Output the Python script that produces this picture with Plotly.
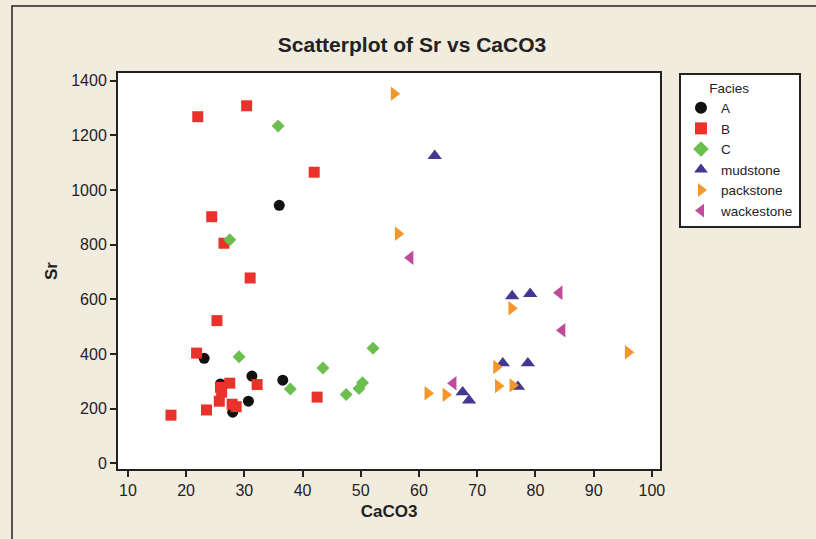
import plotly.graph_objects as go

# CaCO3 (%) and Sr (ppm) by facies
a_caco3 = [23.1, 25.9, 28.0, 30.7, 31.3, 36.6, 36.0]
a_sr = [384, 290, 187, 227, 319, 304, 944]

b_caco3 = [22.0, 30.4, 42.0, 24.4, 26.5, 31.0, 25.3, 21.8, 32.2, 27.5,
           25.9, 26.1, 25.7, 27.9, 28.6, 23.5, 17.4, 42.5]
b_sr = [1268, 1308, 1065, 902, 805, 678, 522, 403, 288, 293,
        278, 260, 227, 216, 207, 195, 176, 242]

c_caco3 = [35.8, 27.5, 29.1, 43.5, 52.1, 37.9, 47.5, 49.7, 50.3]
c_sr = [1234, 818, 390, 349, 421, 272, 252, 274, 295]

mud_caco3 = [62.7, 76.0, 79.1, 74.4, 78.7, 77.0, 67.5, 68.6]
mud_sr = [1125, 612, 620, 366, 366, 280, 260, 230]

pack_caco3 = [55.7, 56.4, 75.9, 95.9, 73.3, 73.6, 76.1, 61.5, 64.6]
pack_sr = [1352, 840, 567, 406, 352, 283, 285, 256, 251]

wack_caco3 = [58.5, 84.1, 84.6, 65.9]
wack_sr = [752, 624, 487, 293]

x_ticks = [10, 20, 30, 40, 50, 60, 70, 80, 90, 100]
y_ticks = [0, 200, 400, 600, 800, 1000, 1200, 1400]

series = [
    ("A", a_caco3, a_sr, "circle", "#111111", 11),
    ("B", b_caco3, b_sr, "square", "#E8322B", 11),
    ("C", c_caco3, c_sr, "diamond", "#6CBF4E", 10),
    ("mudstone", mud_caco3, mud_sr, "triangle-up", "#41398F", 12.5),
    ("packstone", pack_caco3, pack_sr, "triangle-right", "#F5962B", 12.5),
    ("wackestone", wack_caco3, wack_sr, "triangle-left", "#C04B9D", 12.5),
]

fig = go.Figure()
for name, xs, ys, sym, col, sz in series:
    fig.add_trace(go.Scatter(
        x=xs, y=ys, mode="markers", name=name,
        marker=dict(symbol=sym, color=col, size=sz, line=dict(width=0)),
    ))

bg = "#F2ECDF"
font_main = "Liberation Sans"

fig.update_layout(
    width=816, height=539,
    margin=dict(l=118, r=156, t=73, b=70),
    paper_bgcolor=bg, plot_bgcolor="white",
    title=dict(text="<b>Scatterplot of Sr vs CaCO3</b>", x=0.5424, xref="paper",
               xanchor="center", y=1 - 45 / 539, yanchor="middle",
               font=dict(family=font_main, size=21, color="#222222")),
    font=dict(family=font_main, color="#222222"),
    showlegend=True,
    legend=dict(
        x=1.035, y=1, xanchor="left", yanchor="top",
        bgcolor="white", bordercolor="#222222", borderwidth=2,
        font=dict(family=font_main, size=13.5, color="#222222"),
        title=dict(text="\u00a0" * 7 + "Facies", font=dict(family=font_main, size=13.5)),
        tracegroupgap=0, itemsizing="constant",
    ),
    shapes=[dict(type="rect", xref="paper", yref="paper",
                 x0=-0.1956, x1=1.5, y0=-0.3, y1=1.169,
                 line=dict(color="#222222", width=1.5), fillcolor="rgba(0,0,0,0)",
                 layer="below")],
)

fig.update_xaxes(
    range=[8.3, 101.4], tickvals=x_ticks, ticks="outside", ticklen=6, tickwidth=2,
    tickcolor="#222222", showline=True, linecolor="#222222", linewidth=2, mirror=True,
    showgrid=False, zeroline=False,
    tickfont=dict(family=font_main, size=16, color="#222222"),
    title=dict(text="<b>CaCO3</b>", font=dict(family=font_main, size=17), standoff=7),
)
fig.update_yaxes(
    range=[-21, 1428], tickvals=y_ticks, ticks="outside", ticklen=6, tickwidth=2,
    tickcolor="#222222", showline=True, linecolor="#222222", linewidth=2, mirror=True,
    showgrid=False, zeroline=False,
    tickfont=dict(family=font_main, size=16, color="#222222"),
    title=dict(text="<b>Sr</b>", font=dict(family=font_main, size=17), standoff=9),
)

fig.write_html("out.html")
